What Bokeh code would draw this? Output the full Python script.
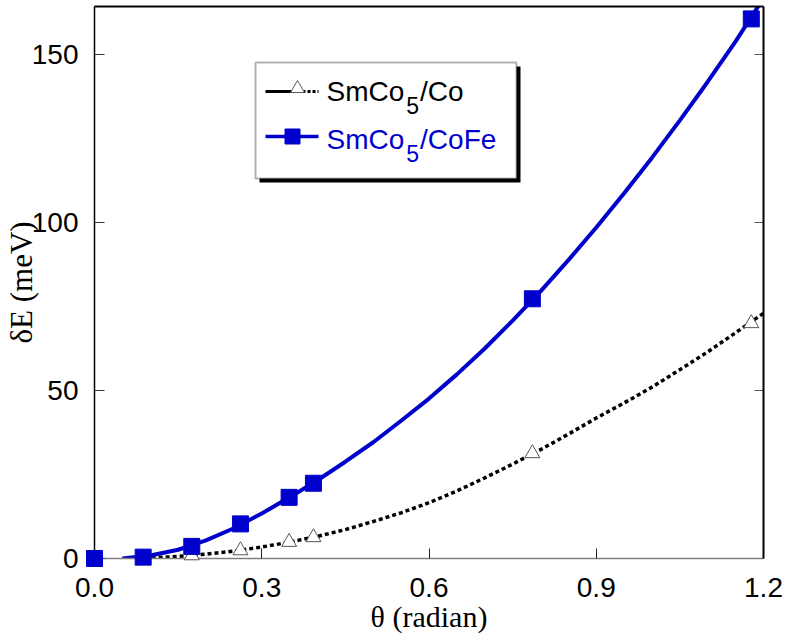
from bokeh.plotting import figure
from bokeh.models import Range1d, LinearAxis, FixedTicker, PrintfTickFormatter, BoxAnnotation, Label
from bokeh.embed import file_html
from bokeh.resources import INLINE

# ---------------- data ----------------
theta = [0.0, 0.0873, 0.1745, 0.2618, 0.3491, 0.3927, 0.7854, 1.1781]
de_co = [0.0, 0.2, 0.9, 2.4, 4.9, 6.3, 31.3, 70.0]
de_cofe = [0.0, 0.4, 3.6, 10.3, 18.2, 22.4, 77.3, 160.6]

fit_co_theta = [0.09, 0.15, 0.2, 0.25, 0.3, 0.35, 0.4, 0.45, 0.5, 0.55, 0.6, 0.65, 0.7,
                0.75, 0.8, 0.85, 0.9, 0.95, 1.0, 1.05, 1.1, 1.15, 1.2]
fit_co = [0.1, 0.6, 1.3, 2.2, 3.4, 4.9, 6.6, 8.6, 11.0, 13.6, 16.6, 20.1, 24.0,
          28.1, 32.4, 37.0, 41.8, 46.3, 51.0, 56.2, 61.5, 67.2, 73.0]

fit_cofe_theta = [0.05, 0.1, 0.15, 0.2, 0.25, 0.3, 0.35, 0.4, 0.45, 0.5, 0.55, 0.6, 0.65,
                  0.7, 0.75, 0.8, 0.85, 0.9, 0.95, 1.0, 1.05, 1.1, 1.15, 1.195]
fit_cofe = [0.0, 0.9, 2.6, 5.4, 9.0, 13.4, 18.2, 23.3, 28.8, 34.6, 41.0, 47.6, 54.8,
            62.5, 70.8, 79.5, 88.8, 98.5, 108.7, 119.3, 130.4, 141.9, 153.9, 165.5]

x_ticks = [0.0, 0.3, 0.6, 0.9, 1.2]
y_ticks = [0, 50, 100, 150]
right_ticks = [50, 100, 150]
legend_parts = [("SmCo", "5", "/Co"), ("SmCo", "5", "/CoFe")]
x_label = "θ (radian)"
y_label = "δE (meV)"

# ---------------- layout ----------------
FRAME_LEFT, FRAME_TOP = 94, 6
FW, FH = 669, 552
X0, X1 = 0.0, 1.2
Y0, Y1 = 0.0, 164.29

BLUE = "#0000CC"


def xd(px):
    return X0 + (px - FRAME_LEFT) / FW * (X1 - X0)


def yd(py):
    return Y1 - (py - FRAME_TOP) / FH * (Y1 - Y0)


p = figure(frame_width=FW, frame_height=FH,
           x_range=Range1d(X0, X1), y_range=Range1d(Y0, Y1),
           output_backend="svg", toolbar_location=None,
           min_border_left=FRAME_LEFT, min_border_right=787 - FRAME_LEFT - FW,
           min_border_top=FRAME_TOP, min_border_bottom=643 - FRAME_TOP - FH,
           background_fill_color="white", border_fill_color="white",
           outline_line_color=None)
p.grid.visible = False

TICK_FONT = "Liberation Sans"
LABEL_FONT = "Liberation Serif"

xa = p.xaxis[0]
xa.ticker = FixedTicker(ticks=x_ticks)
xa.formatter = PrintfTickFormatter(format="%.1f")
xa.axis_line_color = "#808080"
xa.axis_line_width = 1.5
xa.major_tick_in = 10
xa.major_tick_out = 0
xa.major_tick_line_color = "#222222"
xa.minor_tick_line_color = None
xa.major_label_standoff = 19
xa.major_label_text_font = TICK_FONT
xa.major_label_text_font_size = "28px"
xa.major_label_text_color = "black"
xa.axis_label = x_label
xa.axis_label_text_font = LABEL_FONT
xa.axis_label_text_font_size = "30px"
xa.axis_label_text_font_style = "normal"
xa.axis_label_text_color = "black"
xa.axis_label_standoff = 0

ya = p.yaxis[0]
ya.ticker = FixedTicker(ticks=y_ticks)
ya.axis_line_color = "black"
ya.axis_line_width = 1.5
ya.major_tick_in = 10
ya.major_tick_out = 0
ya.major_tick_line_color = "#333333"
ya.minor_tick_line_color = None
ya.major_label_standoff = 16
ya.major_label_text_font = TICK_FONT
ya.major_label_text_font_size = "28px"
ya.major_label_text_color = "black"
ya.major_label_orientation = "horizontal"
ya.axis_label = y_label
ya.axis_label_text_font = LABEL_FONT
ya.axis_label_text_font_size = "31px"
ya.axis_label_text_font_style = "normal"
ya.axis_label_text_color = "black"
ya.axis_label_standoff = -10

# right and top frame lines (no labels)
ra = LinearAxis(ticker=FixedTicker(ticks=[]), axis_line_color="black", axis_line_width=2,
                major_tick_line_color=None, minor_tick_line_color=None,
                major_label_text_font_size="0px", major_label_standoff=0,
                major_tick_in=0, major_tick_out=0)
p.add_layout(ra, "right")
ta = LinearAxis(ticker=FixedTicker(ticks=[]), axis_line_color="black", axis_line_width=2,
                major_tick_line_color=None, minor_tick_line_color=None,
                major_label_text_font_size="0px", major_label_standoff=0,
                major_tick_in=0, major_tick_out=0)
p.add_layout(ta, "above")
# inward tick marks on the right frame line
p.segment(x0=[xd(FRAME_LEFT + FW - 9)] * len(right_ticks), x1=[X1] * len(right_ticks),
          y0=right_ticks, y1=right_ticks, line_color="#555555", line_width=1)

# ---------------- data glyphs ----------------
p.line(fit_co_theta, fit_co, line_color="black", line_width=3.5, line_dash="4 3")
p.scatter(theta, de_co, marker="triangle", size=15, fill_color="white",
          line_color="#555555", line_width=1, level="overlay")
p.line(fit_cofe_theta, fit_cofe, line_color=BLUE, line_width=4)
p.scatter(theta, de_cofe, marker="square", size=16, fill_color=BLUE, line_color=BLUE,
          level="overlay")

# ---------------- legend (drawn by hand) ----------------
p.add_layout(BoxAnnotation(left=xd(259), right=xd(520), top=yd(66), bottom=yd(182),
                           fill_color="black", fill_alpha=1, line_color=None, level="underlay"))
p.add_layout(BoxAnnotation(left=xd(255), right=xd(516), top=yd(62), bottom=yd(178),
                           fill_color="white", fill_alpha=1, line_color="black", line_width=2,
                           level="underlay"))

p.line([xd(265), xd(292)], [yd(91)] * 2, line_color="black", line_width=3)
p.line([xd(302), xd(318)], [yd(91)] * 2, line_color="black", line_width=3, line_dash="3 2")
p.scatter([xd(297)], [yd(88)], marker="triangle", size=14, fill_color="white",
          line_color="#555555", line_width=1)
p.line([xd(265), xd(318)], [yd(136)] * 2, line_color=BLUE, line_width=3.5)
p.scatter([xd(292)], [yd(136)], marker="square", size=15, fill_color=BLUE, line_color=BLUE)

FS, FS_SUB = 28, 23
ARIAL_W = {"S": 0.667, "m": 0.833, "C": 0.722, "o": 0.556, "/": 0.278, "F": 0.611,
           "e": 0.556, "5": 0.556}


def tw(s, fs):
    return sum(ARIAL_W.get(c, 0.556) for c in s) * fs


for (main, sub, tail), base_py, color in zip(legend_parts, [91, 139], ["black", BLUE]):
    x0 = 326
    p.add_layout(Label(x=xd(x0), y=yd(base_py), text=main, text_font=TICK_FONT,
                       text_font_size=f"{FS}px", text_color=color, text_baseline="alphabetic"))
    x1 = x0 + tw(main, FS) + 2
    p.add_layout(Label(x=xd(x1), y=yd(base_py + 14), text=sub, text_font=TICK_FONT,
                       text_font_size=f"{FS_SUB}px", text_color=color, text_baseline="alphabetic"))
    x2 = x1 + tw(sub, FS_SUB) + 1
    p.add_layout(Label(x=xd(x2), y=yd(base_py), text=tail, text_font=TICK_FONT,
                       text_font_size=f"{FS}px", text_color=color, text_baseline="alphabetic"))

open("out.html", "w").write(file_html(p, INLINE))
